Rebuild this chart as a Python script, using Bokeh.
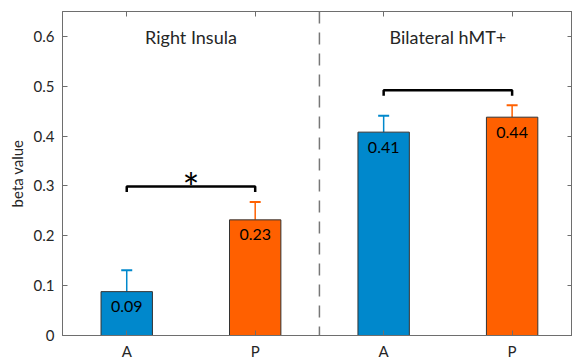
from bokeh.plotting import figure
from bokeh.models import ColumnDataSource, FixedTicker, LinearAxis, Span, Range1d
from bokeh.core.properties import value
from bokeh.embed import file_html
from bokeh.resources import INLINE

# data
positions = [1, 2, 3, 4]
conditions = ["A", "P", "A", "P"]
betas = [0.088, 0.232, 0.408, 0.438]
err_upper = [0.131, 0.268, 0.441, 0.462]
labels = ["0.09", "0.23", "0.41", "0.44"]
colors = ["#0088cc", "#ff6000", "#0088cc", "#ff6000"]
regions = ["Right Insula", "Bilateral hMT+"]
region_centers = [1.5, 3.5]
bracket_levels = [0.299, 0.492]
bracket_pairs = [(1, 2), (3, 4)]
significant = [True, False]

FONT = "Lato"
TXT = "#262626"
AX = "#6e6e6e"

p = figure(width=572, height=362, output_backend="svg", toolbar_location=None,
           x_range=Range1d(0.5, 4.47), y_range=Range1d(0, 0.65),
           min_border_left=62, min_border_top=11, min_border_right=0,
           min_border_bottom=0)
p.background_fill_color = "white"
p.border_fill_color = "white"
p.outline_line_color = AX
p.outline_line_width = 1
p.xgrid.visible = False
p.ygrid.visible = False

src = ColumnDataSource(dict(x=positions, top=betas, up=err_upper, lab=labels, color=colors))

# error bars (upper only)
p.segment(x0="x", y0="top", x1="x", y1="up", source=src, line_color="color", line_width=1.5)
p.scatter(x="x", y="up", source=src, marker="dash", size=11, line_color="color", line_width=2)

p.vbar(x="x", top="top", bottom=0, width=0.4, source=src, fill_color="color",
       line_color="#333333", line_width=1)

p.text(x="x", y="top", text="lab", source=src, y_offset=15, text_align="center",
       text_baseline="middle", text_font=value(FONT), text_font_size="16px", text_color="black")

# divider
p.add_layout(Span(location=2.5, dimension="height", line_color="#777777",
                  line_width=1.5, line_dash="12 9"))

# brackets
for (a, b), lvl, sig, cx in zip(bracket_pairs, bracket_levels, significant, region_centers):
    p.line(x=[a, a, b, b], y=[lvl - 0.011, lvl, lvl, lvl - 0.011], line_color="black", line_width=2.5)
    if sig:
        p.text(x=[cx], y=[lvl], text=["*"], text_align="center", text_baseline="middle",
               y_offset=2, text_font=value(FONT), text_font_size="40px", text_color="black")

# region titles
p.text(x=region_centers, y=[0.598, 0.598], text=regions, text_align="center",
       text_baseline="middle", text_font=value(FONT), text_font_size="18px", text_color=TXT)

def style(ax):
    ax.axis_line_color = AX
    ax.major_tick_line_color = AX
    ax.major_tick_in = 5
    ax.major_tick_out = 0
    ax.minor_tick_line_color = None
    ax.major_label_text_font = FONT
    ax.major_label_text_font_size = "15px"
    ax.major_label_text_color = TXT

p.xaxis.ticker = FixedTicker(ticks=positions)
p.xaxis.major_label_overrides = {pos: c for pos, c in zip(positions, conditions)}
p.xaxis.major_label_standoff = 6
style(p.xaxis[0])

p.yaxis.ticker = FixedTicker(ticks=[0, 0.1, 0.2, 0.3, 0.4, 0.5, 0.6])
p.yaxis.major_label_overrides = {0: "0"}
p.yaxis.axis_label = "beta value"
p.yaxis.axis_label_text_font = FONT
p.yaxis.axis_label_text_font_size = "15px"
p.yaxis.axis_label_text_font_style = "normal"
p.yaxis.axis_label_text_color = TXT
p.yaxis.major_label_standoff = 8
style(p.yaxis[0])

top_ax = LinearAxis(ticker=FixedTicker(ticks=positions), major_label_text_font_size="0px")
style(top_ax)
top_ax.major_label_text_color = None
p.add_layout(top_ax, "above")

right_ax = LinearAxis(ticker=FixedTicker(ticks=[0, 0.1, 0.2, 0.3, 0.4, 0.5, 0.6]),
                      major_label_text_font_size="0px")
style(right_ax)
right_ax.major_label_text_color = None
p.add_layout(right_ax, "right")

open("out.html", "w").write(file_html(p, INLINE))
